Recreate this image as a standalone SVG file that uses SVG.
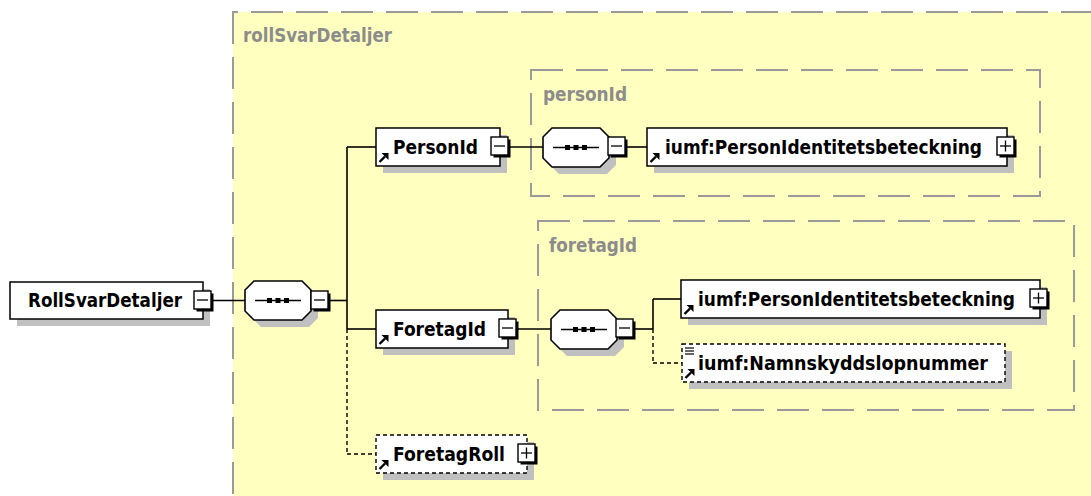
<svg xmlns="http://www.w3.org/2000/svg" xmlns:xlink="http://www.w3.org/1999/xlink" width="1091" height="496" viewBox="0 0 1091 496">
<style>
.grp{fill:#ffffc0;stroke:#9a9a9a;stroke-width:2;stroke-dasharray:32 13}
.lbl{font-family:"DejaVu Sans Condensed","DejaVu Sans",sans-serif;font-weight:bold;font-size:19px;fill:#8c8c8c}
.t{font-family:"DejaVu Sans Condensed","DejaVu Sans",sans-serif;font-weight:bold;font-size:19px;fill:#000}
.box{fill:#fff;stroke:#000;stroke-width:1.5}
.dbox{fill:#fff;stroke:#000;stroke-width:1.4;stroke-dasharray:4 3}
.sh{fill:#c0c0c0}
.ln{fill:none;stroke:#000;stroke-width:1.6}
.dl{fill:none;stroke:#000;stroke-width:1.4;stroke-dasharray:4 3}
</style>
<defs>
<g id="minus">
<rect x="2.5" y="2.5" width="17" height="18" fill="#000"/>
<rect x="0" y="0" width="17" height="18" fill="#fff" stroke="#000" stroke-width="1.4"/>
<line x1="3" y1="9" x2="14" y2="9" stroke="#000" stroke-width="1.3"/>
</g>
<g id="plus">
<rect x="2.5" y="2.5" width="17" height="18" fill="#000"/>
<rect x="0" y="0" width="17" height="18" fill="#fff" stroke="#000" stroke-width="1.4"/>
<line x1="3" y1="9" x2="14" y2="9" stroke="#000" stroke-width="1.3"/>
<line x1="8.5" y1="3.5" x2="8.5" y2="14.5" stroke="#000" stroke-width="1.3"/>
</g>
<g id="arrow">
<line x1="0.5" y1="9" x2="6" y2="3.5" stroke="#000" stroke-width="2.4"/>
<polygon points="2.5,0 9.5,0 9.5,7" fill="#000"/>
</g>
<g id="seq">
<polygon class="sh" points="16,7 64,7 73,16 73,37 64,46 16,46 7,37 7,16"/>
<polygon fill="#fff" stroke="#000" stroke-width="1.6" points="9,0 57,0 66,9 66,30 57,39 9,39 0,30 0,9"/>
<line x1="10" y1="19.5" x2="56" y2="19.5" stroke="#000" stroke-width="1.6"/>
<rect x="22" y="17" width="5" height="5" fill="#000"/>
<rect x="30.5" y="17" width="5" height="5" fill="#000"/>
<rect x="39" y="17" width="5" height="5" fill="#000"/>
</g>
</defs>

<g id="groups">
<rect class="grp" x="233" y="12" width="900" height="520" stroke-dashoffset="27"/>
<text class="lbl" x="243" y="42" textLength="149" lengthAdjust="spacingAndGlyphs">rollSvarDetaljer</text>
<rect class="grp" x="531" y="70" width="509" height="126"/>
<text class="lbl" x="543" y="101" textLength="84" lengthAdjust="spacingAndGlyphs">personId</text>
<rect class="grp" x="538" y="221" width="536" height="189"/>
<text class="lbl" x="549" y="252" textLength="88" lengthAdjust="spacingAndGlyphs">foretagId</text>
</g>

<g id="connectors">
<line class="ln" x1="203" y1="300.5" x2="245" y2="300.5"/>
<line class="ln" x1="328" y1="300.5" x2="347" y2="300.5"/>
<line class="ln" x1="347" y1="147" x2="347" y2="329"/>
<line class="dl" x1="347" y1="329" x2="347" y2="454"/>
<line class="ln" x1="347" y1="147" x2="376" y2="147"/>
<line class="ln" x1="347" y1="329" x2="376" y2="329"/>
<line class="dl" x1="347" y1="454" x2="376" y2="454"/>
<line class="ln" x1="508" y1="147" x2="543" y2="147"/>
<line class="ln" x1="625" y1="147" x2="647" y2="147"/>
<line class="ln" x1="516" y1="329" x2="551" y2="329"/>
<line class="ln" x1="633" y1="329" x2="653" y2="329"/>
<line class="ln" x1="653" y1="299" x2="653" y2="329"/>
<line class="ln" x1="653" y1="299" x2="681" y2="299"/>
<line class="dl" x1="653" y1="329" x2="653" y2="363"/>
<line class="dl" x1="653" y1="363" x2="682" y2="363"/>
</g>

<g id="node-RollSvarDetaljer">
<rect class="sh" x="17" y="289" width="193" height="37"/>
<rect class="box" x="10" y="282" width="193" height="37"/>
<text class="t" x="28" y="307" textLength="154" lengthAdjust="spacingAndGlyphs">RollSvarDetaljer</text>
<use xlink:href="#minus" x="194" y="291"/>
</g>

<g id="seq-main">
<use xlink:href="#seq" x="245" y="281"/>
<use xlink:href="#minus" x="311" y="291"/>
</g>

<g id="node-PersonId">
<rect class="sh" x="383" y="135" width="124" height="38"/>
<rect class="box" x="376" y="128" width="124" height="38"/>
<use xlink:href="#arrow" x="379" y="153"/>
<text class="t" x="393" y="154" textLength="85" lengthAdjust="spacingAndGlyphs">PersonId</text>
<use xlink:href="#minus" x="491" y="137"/>
</g>

<g id="seq-personId">
<use xlink:href="#seq" x="543" y="128"/>
<use xlink:href="#minus" x="608" y="137"/>
</g>

<g id="node-personId-PersonIdentitetsbeteckning">
<rect class="sh" x="654" y="135" width="360" height="38"/>
<rect class="box" x="647" y="128" width="360" height="38"/>
<use xlink:href="#arrow" x="650" y="153"/>
<text class="t" x="665" y="154" textLength="317" lengthAdjust="spacingAndGlyphs">iumf:PersonIdentitetsbeteckning</text>
<use xlink:href="#plus" x="997" y="137"/>
</g>

<g id="node-ForetagId">
<rect class="sh" x="383" y="317" width="132" height="38"/>
<rect class="box" x="376" y="310" width="132" height="38"/>
<use xlink:href="#arrow" x="379" y="335"/>
<text class="t" x="393" y="336" textLength="93" lengthAdjust="spacingAndGlyphs">ForetagId</text>
<use xlink:href="#minus" x="499" y="319"/>
</g>

<g id="seq-foretagId">
<use xlink:href="#seq" x="551" y="310"/>
<use xlink:href="#minus" x="616" y="319"/>
</g>

<g id="node-foretagId-PersonIdentitetsbeteckning">
<rect class="sh" x="688" y="287" width="359" height="38"/>
<rect class="box" x="681" y="280" width="359" height="38"/>
<use xlink:href="#arrow" x="684" y="305"/>
<text class="t" x="698" y="306" textLength="317" lengthAdjust="spacingAndGlyphs">iumf:PersonIdentitetsbeteckning</text>
<use xlink:href="#plus" x="1030" y="289"/>
</g>

<g id="node-Namnskyddslopnummer">
<rect class="sh" x="689" y="351" width="323" height="38"/>
<rect class="dbox" x="682" y="344" width="323" height="38"/>
<line x1="685" y1="348" x2="694" y2="348" stroke="#000" stroke-width="1.2"/>
<line x1="685" y1="351" x2="694" y2="351" stroke="#000" stroke-width="1.2"/>
<line x1="685" y1="354" x2="694" y2="354" stroke="#000" stroke-width="1.2"/>
<use xlink:href="#arrow" x="685" y="369"/>
<text class="t" x="698" y="370" textLength="290" lengthAdjust="spacingAndGlyphs">iumf:Namnskyddslopnummer</text>
</g>

<g id="node-ForetagRoll">
<rect class="sh" x="383" y="442" width="151" height="38"/>
<rect class="dbox" x="376" y="435" width="151" height="38"/>
<use xlink:href="#arrow" x="379" y="460"/>
<text class="t" x="393" y="461" textLength="112" lengthAdjust="spacingAndGlyphs">ForetagRoll</text>
<use xlink:href="#plus" x="518" y="444"/>
</g>
</svg>
